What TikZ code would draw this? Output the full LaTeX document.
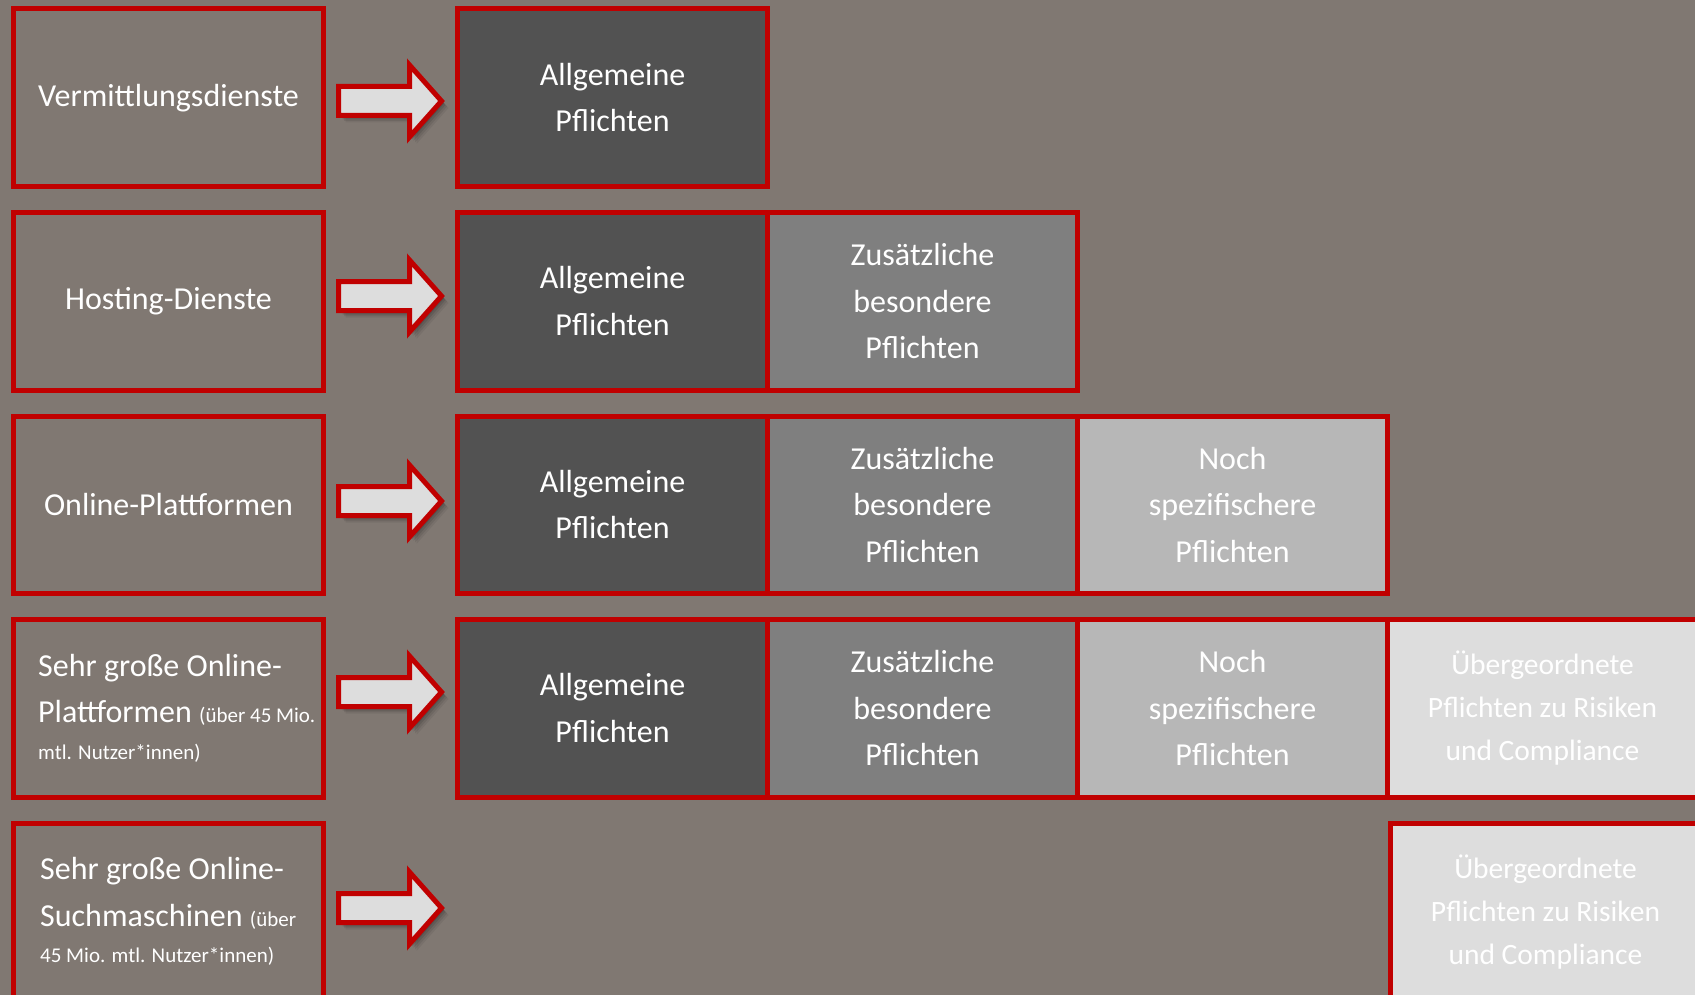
\documentclass[tikz,border=0pt]{standalone}
\usepackage{fontspec}
\setmainfont{Carlito}
\definecolor{bg}{RGB}{128,120,114}
\definecolor{frame}{RGB}{192,0,0}
\definecolor{toneA}{RGB}{82,82,82}
\definecolor{toneB}{RGB}{127,127,127}
\definecolor{toneC}{RGB}{183,183,183}
\definecolor{toneD}{RGB}{221,221,221}
\newcommand\mainsize{\fontsize{32}{46.5}\selectfont}
\newcommand\notesize{\fontsize{21}{28}\selectfont}
\newcommand\topsize{\fontsize{29.5}{43}\selectfont}
\tikzset{
  service/.style={draw=frame, line width=5pt, minimum width=310pt, minimum height=177.5pt,
    inner sep=0pt, anchor=north west, text=white, font=\mainsize},
  duty/.style={draw=frame, line width=5pt, minimum width=310pt, minimum height=177.5pt,
    inner sep=0pt, anchor=north west, text=white, align=center, font=\mainsize},
  note/.style={anchor=west, inner sep=0pt, text=white, align=left, font=\mainsize},
  arrowshape/.style={line width=5pt, line join=miter},
  blockarrow/.pic={
    \foreach \o/\a in {7/0.06,5.5/0.08,4/0.1,2.5/0.12}
      \fill[black, opacity=\a, shift={(\o,\o)}]
        (0,-14.5) -- (71,-14.5) -- (71,-36) -- (103,0) -- (71,36) -- (71,14.5) -- (0,14.5) -- cycle;
    \draw[arrowshape, draw=frame, fill=toneD]
      (0,-14.5) -- (71,-14.5) -- (71,-36) -- (103,0) -- (71,36) -- (71,14.5) -- (0,14.5) -- cycle;
  }
}
\begin{document}
\begin{tikzpicture}[x=1pt, y=-1pt]
  \useasboundingbox (0,0) rectangle (1695,995);
  \clip (0,0) rectangle (1695,995);
  \fill[bg] (0,0) rectangle (1695,995);

  % service categories on the left
  \node[service] (s1) at (11,6.5)   {Vermittlungsdienste};
  \node[service] (s2) at (11,210)   {Hosting-Dienste};
  \node[service] (s3) at (11,413.5) {Online-Plattformen};
  \node[service] (s4) at (11,617)   {};
  \node[service] (s5) at (11,820.5) {};
  \node[note] (t4) at (38,0 |- s4.center)
    {Sehr große Online-\\Plattformen {\notesize (über 45 Mio.}\\[-10pt]{\notesize mtl. Nutzer*innen)}};
  \node[note] (t5) at (40,0 |- s5.center)
    {Sehr große Online-\\Suchmaschinen {\notesize (über}\\[-10pt]{\notesize 45 Mio. mtl. Nutzer*innen)}};

  % arrows
  \pic at (338.5,101) {blockarrow};
  \pic at (338.5,296) {blockarrow};
  \pic at (338.5,501) {blockarrow};
  \pic at (338.5,692) {blockarrow};
  \pic at (338.5,908) {blockarrow};

  % row 1
  \node[duty, fill=toneA] (a1) at (455,6.5) {Allgemeine\\Pflichten};
  % row 2
  \node[duty, fill=toneA] (a2) at (455,210) {Allgemeine\\Pflichten};
  \node[duty, fill=toneB] (b2) at (765,210) {Zusätzliche\\besondere\\Pflichten};
  % row 3
  \node[duty, fill=toneA] (a3) at (455,413.5) {Allgemeine\\Pflichten};
  \node[duty, fill=toneB] (b3) at (765,413.5) {Zusätzliche\\besondere\\Pflichten};
  \node[duty, fill=toneC] (c3) at (1075,413.5) {Noch\\spezifischere\\Pflichten};
  % row 4
  \node[duty, fill=toneA] (a4) at (455,617) {Allgemeine\\Pflichten};
  \node[duty, fill=toneB] (b4) at (765,617) {Zusätzliche\\besondere\\Pflichten};
  \node[duty, fill=toneC] (c4) at (1075,617) {Noch\\spezifischere\\Pflichten};
  \node[duty, fill=toneD, font=\topsize] (d4) at (1385,617)
    {Übergeordnete\\Pflichten zu Risiken\\und Compliance};
  % row 5
  \node[duty, fill=toneD, font=\topsize] (d5) at (1388,820.5)
    {Übergeordnete\\Pflichten zu Risiken\\und Compliance};
\end{tikzpicture}
\end{document}
